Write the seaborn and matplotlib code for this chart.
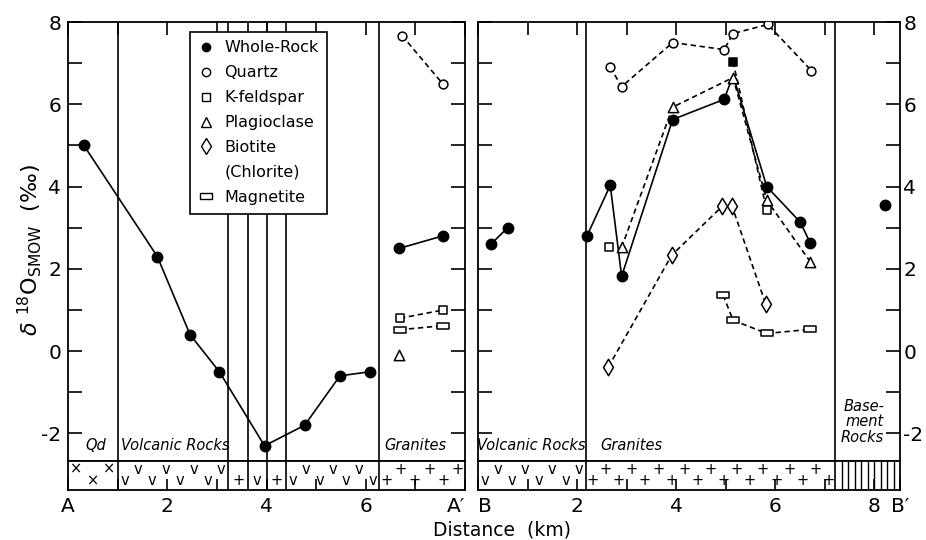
import numpy as np
import pandas as pd
import matplotlib
matplotlib.use("Agg")
import matplotlib.pyplot as plt
import seaborn as sns
from matplotlib.lines import Line2D
from matplotlib.path import Path

sns.set_style("ticks")
plt.rcParams["font.family"] = ["DejaVu Sans"]
plt.rcParams["mathtext.fontset"] = "dejavusans"
for k in ["text.color", "axes.labelcolor", "xtick.color", "ytick.color",
          "axes.edgecolor"]:
    plt.rcParams[k] = "black"

# ---------------- data: profile A - A' ----------------
wr_a_x = [0.32, 1.80, 2.46, 3.05, 3.96, 4.77, 5.48, 6.09, 6.68, 7.55]
wr_a_y = [5.0, 2.3, 0.4, -0.5, -2.3, -1.8, -0.6, -0.5, 2.5, 2.8]
wr_a_seg = [0, 0, 0, 0, 0, 0, 0, 0, 1, 1]
qz_a_x = [6.73, 7.55]
qz_a_y = [7.67, 6.5]
kf_a_x = [6.69, 7.56]
kf_a_y = [0.8, 1.0]
mt_a_x = [6.69, 7.56]
mt_a_y = [0.52, 0.62]
pl_a_x = [6.67]
pl_a_y = [-0.1]

# ---------------- data: profile B - B' ----------------
wr_b_x = [0.26, 0.60, 2.20, 2.67, 2.90, 3.93, 4.97, 5.15, 5.83, 6.51, 6.71, 8.22]
wr_b_y = [2.6, 3.0, 2.8, 4.03, 1.82, 5.63, 6.12, 6.7, 4.0, 3.13, 2.62, 3.55]
wr_b_seg = [0, 0, 1, 1, 1, 1, 1, 1, 1, 1, 1, 2]
wr_b_mark = [1, 1, 1, 1, 1, 1, 1, 0, 1, 1, 1, 1]
qz_b_x = [2.67, 2.90, 3.93, 4.97, 5.15, 5.85, 6.73]
qz_b_y = [6.9, 6.43, 7.5, 7.33, 7.72, 7.94, 6.82]
pl_b_x = [2.90, 3.93, 5.15, 5.83, 6.71]
pl_b_y = [2.52, 5.93, 6.65, 3.67, 2.17]
kf_b_x = [2.65, 5.15, 5.83]
kf_b_y = [2.52, 7.03, 3.42]
kf_b_seg = [0, 1, 1]
kf_b_fill = [0, 1, 0]
bi_b_x = [2.63, 3.91, 4.93, 5.13, 5.81]
bi_b_y = [-0.39, 2.33, 3.52, 3.52, 1.14]
mt_b_x = [4.95, 5.15, 5.83, 6.71]
mt_b_y = [1.36, 0.75, 0.43, 0.53]

# geology strip units (start, end, kind)
geo_a = [(0.0, 1.0, "x"), (1.0, 3.23, "v"), (3.23, 3.63, "+"), (3.63, 4.0, "v"),
         (4.0, 4.4, "+"), (4.4, 6.27, "v"), (6.27, 8.0, "+")]
geo_b = [(0.0, 2.18, "v"), (2.18, 7.21, "+"), (7.21, 8.52, "|")]

unit_labels_a = [("Qd", 0.56), ("Volcanic Rocks", 2.16), ("Granites", 7.0)]
unit_labels_b = [("Volcanic Rocks", 1.08), ("Granites", 3.09)]

ytick_vals = [-2, 0, 2, 4, 6, 8]
ytick_labs = ["-2", "0", "2", "4", "6", "8"]
xlim_a = (0.0, 8.0)
xlim_b = (0.0, 8.52)
ylim = (-2.67, 8.0)

# ---------------- figure ----------------
W, H = 926, 540
fig = plt.figure(figsize=(W / 100, H / 100), dpi=100)

def rect(x0, x1, ytop, ybot):
    return [x0 / W, 1 - ybot / H, (x1 - x0) / W, (ybot - ytop) / H]

axA = fig.add_axes(rect(68, 465, 22, 461))
stA = fig.add_axes(rect(68, 465, 461, 490))
axB = fig.add_axes(rect(478, 900, 22, 461))
stB = fig.add_axes(rect(478, 900, 461, 490))

LW = 1.2
DASH = (0, (3.2, 2.2))
magnet = Path([(-1, -0.5), (1, -0.5), (1, 0.5), (-1, 0.5), (-1, -0.5)], closed=True)


def draw_line(ax, x, y, seg=None, ls="-"):
    if seg is None:
        seg = [0] * len(x)
    df = pd.DataFrame({"x": x, "y": y, "seg": seg})
    sns.lineplot(data=df, x="x", y="y", units="seg", estimator=None, sort=False,
                 ax=ax, color="black", linewidth=LW, linestyle=ls, legend=False)


def draw_pts(ax, x, y, marker, filled, s):
    df = pd.DataFrame({"x": x, "y": y})
    sns.scatterplot(data=df, x="x", y="y", ax=ax, marker=marker, s=s,
                    color="black" if filled else "white", edgecolor="black",
                    linewidth=1.1, zorder=6, legend=False)


# ---- panel A ----
draw_line(axA, wr_a_x, wr_a_y, wr_a_seg, "-")
draw_line(axA, qz_a_x, qz_a_y, None, DASH)
draw_line(axA, kf_a_x, kf_a_y, None, DASH)
draw_line(axA, mt_a_x, mt_a_y, None, DASH)
draw_pts(axA, wr_a_x, wr_a_y, "o", True, 55)
draw_pts(axA, qz_a_x, qz_a_y, "o", False, 40)
draw_pts(axA, kf_a_x, kf_a_y, "s", False, 40)
draw_pts(axA, mt_a_x, mt_a_y, magnet, False, 75)
draw_pts(axA, pl_a_x, pl_a_y, "^", False, 55)

# ---- panel B ----
draw_line(axB, wr_b_x, wr_b_y, wr_b_seg, "-")
draw_line(axB, qz_b_x, qz_b_y, None, DASH)
draw_line(axB, pl_b_x, pl_b_y, None, DASH)
draw_line(axB, kf_b_x, kf_b_y, kf_b_seg, DASH)
draw_line(axB, bi_b_x, bi_b_y, None, DASH)
draw_line(axB, mt_b_x, mt_b_y, None, DASH)
wr_mx = [x for x, m in zip(wr_b_x, wr_b_mark) if m]
wr_my = [y for y, m in zip(wr_b_y, wr_b_mark) if m]
draw_pts(axB, wr_mx, wr_my, "o", True, 55)
draw_pts(axB, qz_b_x, qz_b_y, "o", False, 40)
draw_pts(axB, pl_b_x, pl_b_y, "^", False, 55)
kfo = [(x, y) for x, y, f in zip(kf_b_x, kf_b_y, kf_b_fill) if not f]
kff = [(x, y) for x, y, f in zip(kf_b_x, kf_b_y, kf_b_fill) if f]
draw_pts(axB, [p[0] for p in kfo], [p[1] for p in kfo], "s", False, 40)
draw_pts(axB, [p[0] for p in kff], [p[1] for p in kff], "s", True, 40)
draw_pts(axB, bi_b_x, bi_b_y, "d", False, 70)
draw_pts(axB, mt_b_x, mt_b_y, magnet, False, 75)

# ---- boundaries ----
for ax, st, geo in [(axA, stA, geo_a), (axB, stB, geo_b)]:
    for (a, b, k) in geo[1:]:
        ax.axvline(a, color="black", lw=LW, zorder=1)
        st.axvline(a, color="black", lw=LW, zorder=1)

# ---- strip symbols ----
def fill_strip(st, geo):
    for (a, b, k) in geo:
        if k == "|":
            n = int(round((b - a) / 0.13))
            xs = np.linspace(a, b, n + 1)[1:-1]
            st.vlines(xs, 0, 1, color="black", lw=1.0)
            continue
        w = 0.27 if k != "x" else 0.3
        n = max(1, int(round((b - a) / w)))
        sym = {"v": "v", "+": "+", "x": "\u00d7"}[k]
        for i in range(n):
            xi = a + (i + 0.5) * (b - a) / n
            yi = 0.32 if i % 2 == 0 else 0.72
            if k == "x":
                yi = 0.72 if i % 2 == 0 else 0.3
            st.text(xi, yi, sym, ha="center", va="center", fontsize=10.5,
                    color="black")

fill_strip(stA, geo_a)
fill_strip(stB, geo_b)

# ---- unit labels ----
ital = dict(style="italic", fontsize=10.5, ha="center", va="center")
for t, x in unit_labels_a:
    axA.text(x, -2.3, t, **ital)
for t, x in unit_labels_b:
    axB.text(x, -2.3, t, **ital)
axB.text(8.2, -1.72, "Base-\nment\nRocks", style="italic", fontsize=10.5,
         ha="right", va="center", multialignment="right", linespacing=1.05)

# ---- axes styling ----
TFS = 14.5
for ax, xl, side in [(axA, xlim_a, "left"), (axB, xlim_b, "right")]:
    ax.set_xlim(*xl)
    ax.set_ylim(*ylim)
    ax.set_xlabel("")
    ax.set_ylabel("")
    ax.set_xticks(range(0, 9))
    ax.set_yticks(ytick_vals)
    ax.set_yticks([-1, 1, 3, 5, 7], minor=True)
    ax.tick_params(axis="x", which="both", top=True, bottom=False, direction="in",
                   length=9, width=1.2, labelbottom=False, labeltop=False)
    ax.tick_params(axis="y", which="both", left=True, right=True, direction="in",
                   length=10, width=1.2, labelsize=TFS,
                   pad=(5 if side == "left" else 2.5),
                   labelleft=(side == "left"), labelright=(side == "right"))
    ax.set_yticklabels(ytick_labs)
    for sp in ax.spines.values():
        sp.set_visible(True)
        sp.set_linewidth(1.3)

for st, xl, labs in [(stA, xlim_a, ["A", "2", "4", "6", "A\u2032"]),
                     (stB, xlim_b, ["B", "2", "4", "6", "8", "B\u2032"])]:
    st.set_xlim(*xl)
    st.set_ylim(0, 1)
    st.set_yticks([])
    if len(labs) == 5:
        st.set_xticks([0, 2, 4, 6, 8])
    else:
        st.set_xticks([0, 2, 4, 6, 8, 8.52])
    st.set_xticks([1, 3, 5, 7], minor=True)
    st.set_xticklabels(labs)
    st.tick_params(axis="x", which="both", direction="in", length=8, width=1.2,
                   labelsize=TFS, pad=5, top=False, bottom=True)
    for sp in st.spines.values():
        sp.set_visible(True)
        sp.set_linewidth(1.3)

stA.get_xticklabels()[-1].set_horizontalalignment("right")
stB.get_xticklabels()[0].set_horizontalalignment("left")

# ---- legend ----
mk = dict(ls="none", mec="black", mew=1.0, color="black")
handles = [
    Line2D([], [], marker="o", mfc="black", ms=6, **mk),
    Line2D([], [], marker="o", mfc="white", ms=6, **mk),
    Line2D([], [], marker="s", mfc="white", ms=6, **mk),
    Line2D([], [], marker="^", mfc="white", ms=7, **mk),
    Line2D([], [], marker="d", mfc="white", ms=8, **mk),
    Line2D([], [], ls="none"),
    Line2D([], [], marker=magnet, mfc="white", ms=8, **mk),
]
labels = ["Whole-Rock", "Quartz", "K-feldspar", "Plagioclase", "Biotite",
          "(Chlorite)", "Magnetite"]
leg = axA.legend(handles, labels, loc="upper left", bbox_to_anchor=(0.307, 0.978),
                 borderaxespad=0, frameon=True, fancybox=False, framealpha=1,
                 edgecolor="black", fontsize=11.5, handlelength=0.9,
                 handletextpad=0.7, labelspacing=0.62, borderpad=0.55)
leg.get_frame().set_linewidth(1.2)
leg.set_zorder(10)

# ---- axis titles ----
fig.text(30 / W, 1 - 250 / H,
         r"$\delta\ ^{18}\mathrm{O}_{\mathrm{SMOW}}$" + "  (\u2030)",
         rotation=90, ha="center", va="center", fontsize=16)
fig.text(502 / W, 1 - 530 / H, "Distance  (km)", ha="center", va="center",
         fontsize=13.5)

fig.savefig("out.png", dpi=100)
